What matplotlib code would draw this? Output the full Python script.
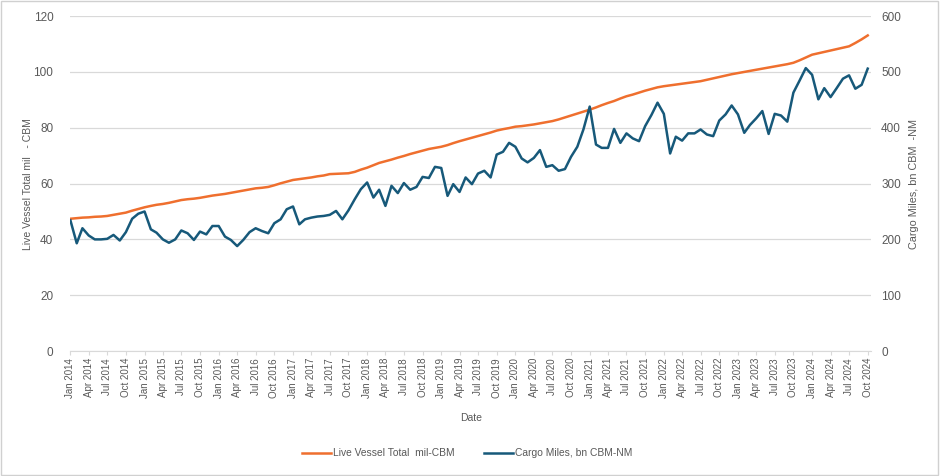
import numpy as np
import pandas as pd
import matplotlib
matplotlib.use("Agg")
import matplotlib.pyplot as plt
from matplotlib.patches import Rectangle

plt.rcParams['font.family'] = ['Liberation Sans', 'DejaVu Sans']

# monthly, Jan 2014 .. Oct 2024
dates = pd.date_range('2014-01-01', periods=130, freq='MS')

# Live Vessel Total, mil CBM (left axis)
vessel = [
    47.4, 47.6, 47.8, 47.9, 48.1, 48.2, 48.4, 48.8, 49.2, 49.6, 50.3, 50.9,
    51.5, 52.0, 52.4, 52.7, 53.1, 53.6, 54.1, 54.4, 54.6, 54.9, 55.3, 55.7,
    56.0, 56.3, 56.7, 57.1, 57.5, 57.9, 58.3, 58.5, 58.8, 59.4, 60.1, 60.7,
    61.3, 61.6, 61.9, 62.2, 62.6, 62.9, 63.4, 63.5, 63.6, 63.7, 64.2, 65.0,
    65.7, 66.6, 67.4, 68.0, 68.6, 69.3, 69.9, 70.6, 71.2, 71.8, 72.4, 72.8,
    73.2, 73.8, 74.5, 75.2, 75.8, 76.4, 77.0, 77.6, 78.3, 79.0, 79.5, 79.9,
    80.4, 80.6, 80.9, 81.2, 81.6, 82.0, 82.4, 83.0, 83.7, 84.4, 85.1, 85.8,
    86.5, 87.3, 88.1, 88.9, 89.6, 90.5, 91.3, 91.9, 92.6, 93.3, 93.9, 94.5,
    94.9, 95.2, 95.5, 95.8, 96.1, 96.4, 96.7, 97.2, 97.7, 98.2, 98.7, 99.2,
    99.6, 100.0, 100.4, 100.8, 101.2, 101.6, 102.0, 102.4, 102.8, 103.3, 104.2, 105.2,
    106.2, 106.7, 107.2, 107.7, 108.2, 108.7, 109.2, 110.4, 111.7, 113.1,
]

# Cargo Miles, bn CBM-NM (right axis)
cargo = [
    234, 193, 220, 207, 200, 200, 201, 208, 198, 213, 237, 246,
    250, 218, 212, 200, 194, 200, 216, 211, 199, 214, 209, 224,
    224, 205, 199, 188, 199, 213, 220, 215, 211, 229, 236, 254,
    259, 227, 236, 239, 241, 242, 244, 251, 236, 252, 272, 290,
    302, 275, 289, 260, 296, 283, 301, 289, 294, 312, 310, 330,
    328, 278, 299, 285, 311, 299, 318, 323, 311, 352, 357, 373,
    366, 345, 338, 346, 360, 330, 333, 323, 326, 348, 366, 397,
    438, 370, 364, 364, 398, 373, 390, 381, 376, 403, 423, 445,
    425, 354, 384, 377, 390, 390, 397, 388, 385, 413, 424, 440,
    424, 391, 405, 417, 430, 389, 425, 422, 411, 463, 485, 507,
    495, 451, 471, 455, 471, 488, 494, 470, 477, 506,
]

orange = '#EF6F2E'
blue = '#17597A'
grey = '#595959'

fig = plt.figure(figsize=(9.4, 4.76), dpi=100)
ax = fig.add_axes([0.0745, 0.2626, 0.8525, 0.7034])
ax2 = ax.twinx()

l1, = ax.plot(dates, vessel, color=orange, lw=1.8, label='Live Vessel Total  mil-CBM')
l2, = ax2.plot(dates, cargo, color=blue, lw=1.8, label='Cargo Miles, bn CBM-NM')

ax.set_ylim(0, 120)
ax.set_yticks(range(0, 121, 20))
ax2.set_ylim(0, 600)
ax2.set_yticks(range(0, 601, 100))
ax.set_xlim(dates[0] - pd.Timedelta(days=2), dates[-1] + pd.Timedelta(days=18))

ax.grid(axis='y', color='#D9D9D9', lw=0.9)
ax.set_axisbelow(True)
for a in (ax, ax2):
    for s in ('top', 'left', 'right'):
        a.spines[s].set_visible(False)
    a.spines['bottom'].set_color('#D9D9D9')
ax2.spines['bottom'].set_visible(False)

tick_dates = dates[::3]
ax.set_xticks(tick_dates)
ax.set_xticklabels([d.strftime('%b %Y') for d in tick_dates], rotation=90, fontsize=7, color=grey)
ax.tick_params(axis='x', length=3, color='#D9D9D9', pad=2)
ax.tick_params(axis='y', length=0, labelsize=8.5, labelcolor=grey, pad=12)
ax2.tick_params(axis='y', length=0, labelsize=8.5, labelcolor=grey, pad=7)

ax.set_ylabel('Live Vessel Total mil   - CBM', fontsize=7.5, color=grey, labelpad=0)
ax2.set_ylabel('Cargo Miles, bn CBM  -NM', fontsize=7.8, color=grey, labelpad=6)
ax.set_xlabel('Date', fontsize=7.5, color=grey, labelpad=11)

fig.legend(handles=[l1, l2], loc='center', bbox_to_anchor=(0.497, 0.048), ncol=2,
           frameon=False, fontsize=7.4, handlelength=2.8, handletextpad=0.2,
           columnspacing=2.9, labelcolor=grey)

fig.patches.append(Rectangle((0.001, 0.003), 0.997, 0.995, transform=fig.transFigure,
                             fill=False, edgecolor='#D0D0D0', lw=1))

fig.savefig('out.png', dpi=100)
